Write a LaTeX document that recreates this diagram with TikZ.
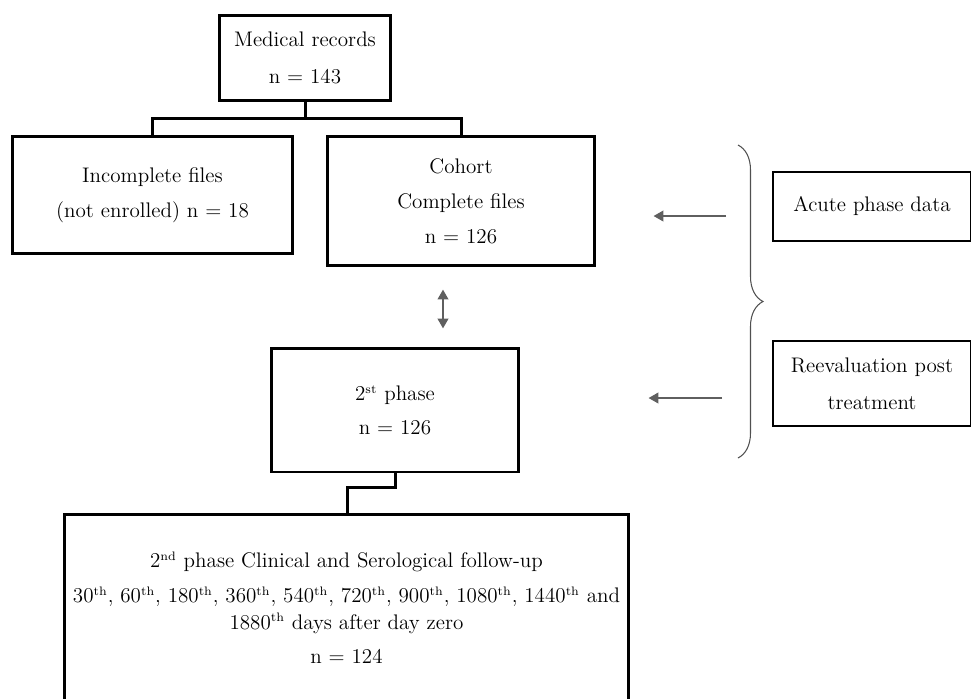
\documentclass[tikz,border=0pt]{standalone}
\usepackage{tikz}
\usetikzlibrary{arrows.meta,decorations.pathreplacing}
\definecolor{arrowgray}{HTML}{5F5F5F}
\definecolor{bracegray}{HTML}{505050}
\tikzset{gtip/.tip={Triangle[length=0.2cm, width=0.21cm]}}
\newcommand{\ordsup}[1]{\textsuperscript{\fontsize{7}{8}\selectfont #1}}

\begin{document}
\begin{tikzpicture}[x=0.02cm, y=-0.02cm,
    every node/.style={font=\fontsize{12}{15}\selectfont, align=center},
    box/.style={draw, line width=0.06cm, inner sep=0pt},
    sidebox/.style={draw, line width=0.03cm, inner sep=0pt},
    link/.style={line width=0.06cm},
    grayarrow/.style={draw=arrowgray, line width=0.055cm, -gtip}]
    \useasboundingbox (0,0) rectangle (971,698);
    \clip (0,0) rectangle (971,698);
    \node[box, minimum width=3.44cm, minimum height=1.7cm] (records) at (305, 57.5) {Medical records\\[6pt]n = 143};
    \node[box, minimum width=5.62cm, minimum height=2.36cm] (incomplete) at (152.5, 195) {Incomplete files\\[5pt](not enrolled) n = 18};
    \node[box, minimum width=5.36cm, minimum height=2.6cm] (cohort) at (461, 201) {Cohort\\[5pt]Complete files\\[5pt]n = 126};
    \node[box, minimum width=4.96cm, minimum height=2.48cm] (phase) at (395, 410) {2\ordsup{st} phase\\[4pt]n = 126};
    \node[box, minimum width=11.3cm, minimum height=3.74cm] (followup) at (346.5, 607.5) {2\ordsup{nd} phase Clinical and Serological follow-up\\[5pt]
      30\ordsup{th}, 60\ordsup{th}, 180\ordsup{th}, 360\ordsup{th}, 540\ordsup{th}, 720\ordsup{th}, 900\ordsup{th}, 1080\ordsup{th}, 1440\ordsup{th} and\\
      1880\ordsup{th} days after day zero\\[4.5pt]n = 124};
    \node[sidebox, minimum width=3.96cm, minimum height=1.38cm] (acute) at (872, 206.5) {Acute phase data};
    \node[sidebox, minimum width=3.96cm, minimum height=1.7cm] (reeval) at (872, 383.5) {Reevaluation post\\[6pt]treatment};
    \coordinate (split) at (305, 118);
    \coordinate (jog) at (347, 487);
    \coordinate (dbl) at (443, 0);
    \coordinate (ta) at (726, 216);
    \coordinate (tr) at (722, 398);
    \draw [link] (records) to (split);
    \draw [link] (incomplete) |- (split) -| (cohort);
    \draw [link] (phase) |- (jog) -- (jog |- followup.north);
    \draw [grayarrow, gtip-gtip, shorten <=0.44cm, shorten >=0.36cm] (cohort.south -| dbl) to (phase.north -| dbl);
    \draw [grayarrow, shorten >=1.14cm] (ta) to (ta -| cohort.east);
    \draw [grayarrow, shorten >=2.56cm] (tr) to (tr -| phase.east);
    \draw [bracegray, line width=0.6pt, decorate, decoration={brace, amplitude=0.5cm, aspect=0.5}] (738, 145) -- (738, 458);
\end{tikzpicture}
\end{document}
